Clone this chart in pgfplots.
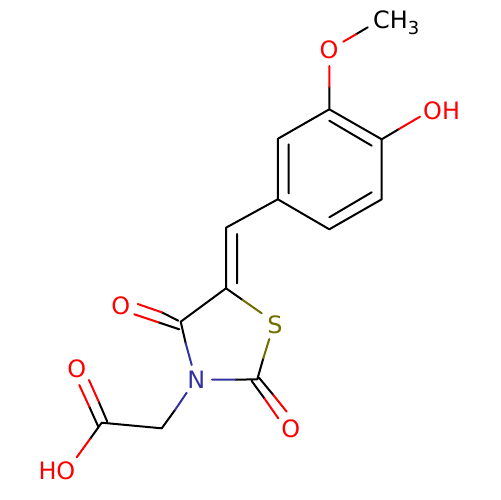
\documentclass[border=0pt]{standalone}
\usepackage{fontspec}
\setmainfont{DejaVu Sans}
\usepackage{pgfplots}
\pgfplotsset{compat=1.18}
\definecolor{ored}{HTML}{FF0000}
\definecolor{nblue}{HTML}{33339F}
\definecolor{solive}{HTML}{6F6F00}
\tikzset{lbl/.style={font=\fontsize{24}{24}\selectfont, inner sep=0pt}}

\begin{document}
\begin{tikzpicture}[x=1bp,y=1bp]
\useasboundingbox (0,0) rectangle (500,500);
\begin{axis}[
    at={(0,0)}, anchor=south west,
    width=500bp, height=500bp, scale only axis,
    xmin=0, xmax=500, ymin=0, ymax=500,
    y dir=reverse,
    hide axis,
    clip=false,
    unbounded coords=jump,
    every axis plot/.append style={line width=2bp, line join=round, line cap=round, mark=none},
]
% bonds, carbon ends
\addplot[black] table {
x y
329.3 86.7
329.3 109.3
381.7 139.3
381.7 199.3
329.3 229.3
277.8 199.3
277.8 138.8
329.3 109.3
nan nan
329.3 120.7
371.7 145.7
nan nan
371.7 192.3
329.3 217.3
nan nan
288.7 144.3
288.7 193.3
nan nan
381.7 139.3
399 129
nan nan
356 34.3
367.7 27.3
nan nan
277.8 199.3
226 227.7
226 288.3
242.7 300
nan nan
237 234
237 283.3
nan nan
226 288.3
180.7 321.7
185.7 343.3
nan nan
178.3 320.7
161.7 312.3
nan nan
179.3 329.3
158.3 322.3
nan nan
235.3 379.7
257.3 379.3
263.3 358.3
nan nan
259 377.7
273.3 395
nan nan
251.7 381
264.3 398.3
nan nan
175 410
161.7 428.3
101.7 422.7
90 439
nan nan
107.3 421.7
98.7 401.7
nan nan
98.3 426.7
89.3 406.7
};
% bonds, oxygen ends
\addplot[ored] table {
x y
329.3 66
329.3 86.7
nan nan
343.3 41.7
356 34.3
nan nan
399 129
420 116.7
nan nan
161.7 312.3
137.7 304
nan nan
158.3 322.3
134.3 314.3
nan nan
273.3 395
286.7 411.7
nan nan
264.3 398.3
278.3 418.3
nan nan
98.7 401.7
89 380
nan nan
89.3 406.7
79.3 385
nan nan
90 439
76.7 457.3
};
% bonds, nitrogen ends
\addplot[nblue] table {
x y
185.7 343.3
191.7 365
nan nan
212 379.7
235.3 379.7
nan nan
186.7 392.7
175 410
};
% bonds, sulfur ends
\addplot[solive] table {
x y
242.7 300
261.7 313.3
nan nan
269.3 339
263.3 358.3
};
\node[lbl, text=ored] at (axis cs:329,50) {O};
\node[lbl, text=ored, anchor=west] at (axis cs:423,110.5) {OH};
\node[lbl, text=ored] at (axis cs:120.7,305.7) {O};
\node[lbl, text=ored] at (axis cs:290.7,429) {O};
\node[lbl, text=ored] at (axis cs:76.7,368.3) {O};
\node[lbl, text=ored, anchor=east] at (axis cs:75.5,471) {HO};
\node[lbl, text=nblue] at (axis cs:196.3,380) {N};
\node[lbl, text=solive] at (axis cs:275,324.3) {S};
\node[lbl, text=black, anchor=base west] at (axis cs:373,28.3) {CH\raisebox{-6bp}{\fontsize{18}{18}\selectfont 3}};
\end{axis}
\end{tikzpicture}
\end{document}
